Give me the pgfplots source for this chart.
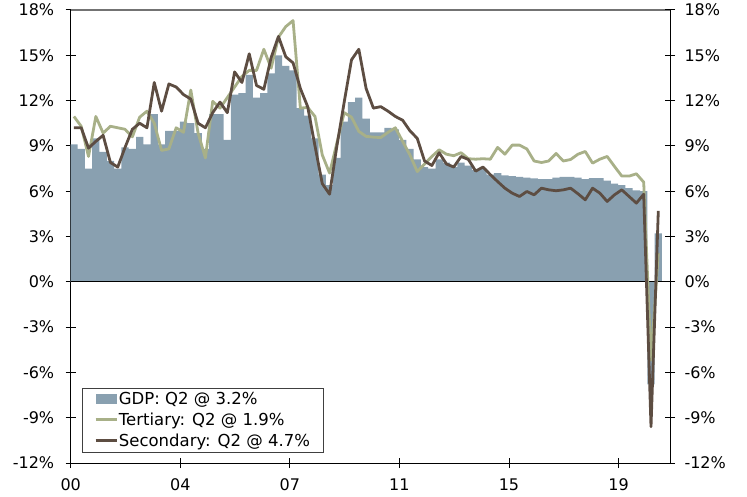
\documentclass[border=0pt]{standalone}
\usepackage{fontspec}
\setmainfont{DejaVu Sans}
\usepackage{pgfplots}
\usepackage{pgfplotstable}
\pgfplotsset{compat=1.18}
\definecolor{gdpc}{RGB}{137,160,176}
\definecolor{terc}{RGB}{168,176,136}
\definecolor{secc}{RGB}{93,77,66}
\pgfplotstableread{
i gdp ter sec
1 9.1 10.95 10.2
2 8.8 10.3 10.2
3 7.5 8.3 8.85
4 9.5 10.95 9.3
5 8.6 9.85 9.7
6 8.0 10.3 7.9
7 7.5 10.2 7.6
8 8.9 10.1 8.9
9 8.8 9.6 10.1
10 9.6 10.9 10.5
11 9.1 11.3 10.2
12 11.1 10.5 13.2
13 9.1 8.7 11.3
14 10.0 8.8 13.1
15 10.0 10.2 12.9
16 10.6 9.9 12.4
17 10.5 12.7 12.1
18 9.85 9.85 10.5
19 8.8 8.2 10.2
20 11.1 11.95 11.2
21 11.1 11.5 11.9
22 9.4 12.2 11.2
23 12.4 12.9 13.9
24 12.5 13.6 13.2
25 13.7 14.0 15.1
26 12.2 14.0 13.0
27 12.5 15.4 12.75
28 13.8 14.15 14.85
29 15.0 16.2 16.25
30 14.3 16.9 14.9
31 14.0 17.3 14.5
32 11.5 11.5 12.8
33 11.0 11.55 11.6
34 9.5 10.95 9.0
35 7.1 8.4 6.5
36 6.4 7.2 5.8
37 8.2 9.2 9.0
38 10.6 11.2 11.9
39 11.9 10.9 14.7
40 12.2 9.96 15.4
41 10.8 9.63 12.8
42 9.9 9.58 11.5
43 9.9 9.55 11.6
44 10.2 9.9 11.3
45 10.1 10.2 10.95
46 9.4 9.3 10.7
47 8.8 8.4 10.0
48 8.1 7.3 9.5
49 7.6 7.8 8.0
50 7.5 8.3 7.7
51 8.1 8.74 8.55
52 7.9 8.45 7.8
53 7.6 8.35 7.6
54 7.9 8.55 8.3
55 7.7 8.15 8.1
56 7.4 8.12 7.33
57 7.5 8.15 7.6
58 7.1 8.12 7.1
59 7.2 8.9 6.64
60 7.05 8.45 6.2
61 7.0 9.05 5.87
62 6.95 9.05 5.65
63 6.9 8.8 5.98
64 6.85 8.0 5.76
65 6.8 7.9 6.2
66 6.8 8.0 6.09
67 6.9 8.5 6.03
68 6.95 8.0 6.09
69 6.95 8.1 6.2
70 6.9 8.45 5.83
71 6.8 8.63 5.43
72 6.86 7.86 6.2
73 6.86 8.12 5.87
74 6.7 8.3 5.32
75 6.5 7.64 5.76
76 6.4 7.0 6.09
77 6.2 7.0 5.65
78 6.05 7.15 5.21
79 6.0 6.6 5.8
80 -6.8 -5.2 -9.6
81 3.2 1.9 4.7
}\datatable
\pgfplotsset{
  common/.style={
    at={(70.7bp,34bp)}, anchor=south west,
    width=599.3bp, height=453bp, scale only axis,
    xmin=0.56, xmax=82.6, ymin=-12, ymax=18,
    axis line style={-, line width=1bp, black},
    ytick={-12,-9,...,18},
    yticklabels={-12\%,-9\%,-6\%,-3\%,0\%,3\%,6\%,9\%,12\%,15\%,18\%},
    tick align=center, major tick length=10bp,
    tick style={black, line width=1bp},
    ticklabel style={font=\fontsize{16bp}{19bp}\selectfont},
  }
}
\begin{document}
\begin{tikzpicture}
\useasboundingbox (0,0) rectangle (747bp,497bp);
\begin{axis}[common,
  axis x line*=bottom, axis y line*=left,
  yticklabel style={xshift=-8bp},
  xticklabel style={yshift=-7bp},
  xtick={0.56,15.56,30.56,45.56,60.56,75.56},
  xticklabels={00,04,07,11,15,19},
  legend style={at={(0.0184,0.0236)}, anchor=south west,
    draw=black!75, line width=0.8bp,
    font=\fontsize{16.5bp}{20bp}\selectfont,
    inner xsep=12bp, inner ysep=2bp, row sep=3bp,
    nodes={inner xsep=1bp, inner ysep=2bp}},
  legend cell align=left,
]
\addplot[ybar, bar width=1, fill=gdpc, draw=none,
  legend image code/.code={\fill[gdpc] (0bp,-5.2bp) rectangle (21bp,5.2bp);}]
  table[x=i, y=gdp] {\datatable};
\addlegendentry{GDP: Q2 @ 3.2\%}
\addplot[black, line width=1bp, forget plot] coordinates {(0.56,0) (82.6,0)};
\addplot[terc, line width=2.8bp, line join=round,
  legend image code/.code={\draw[terc, line width=2.8bp] (0bp,0bp) -- (21bp,0bp);}]
  table[x=i, y=ter] {\datatable};
\addlegendentry{Tertiary: Q2 @ 1.9\%}
\addplot[secc, line width=2.8bp, line join=round,
  legend image code/.code={\draw[secc, line width=2.8bp] (0bp,0bp) -- (21bp,0bp);}]
  table[x=i, y=sec] {\datatable};
\addlegendentry{Secondary: Q2 @ 4.7\%}
\draw[black!55, line width=1.5bp] (rel axis cs:0,1) -- (rel axis cs:1,1);
\end{axis}
\begin{axis}[common,
  axis x line=none, axis y line*=right,
  yticklabel style={xshift=6bp},
]
\addplot[draw=none] coordinates {(1,0)};
\end{axis}
\end{tikzpicture}
\end{document}
